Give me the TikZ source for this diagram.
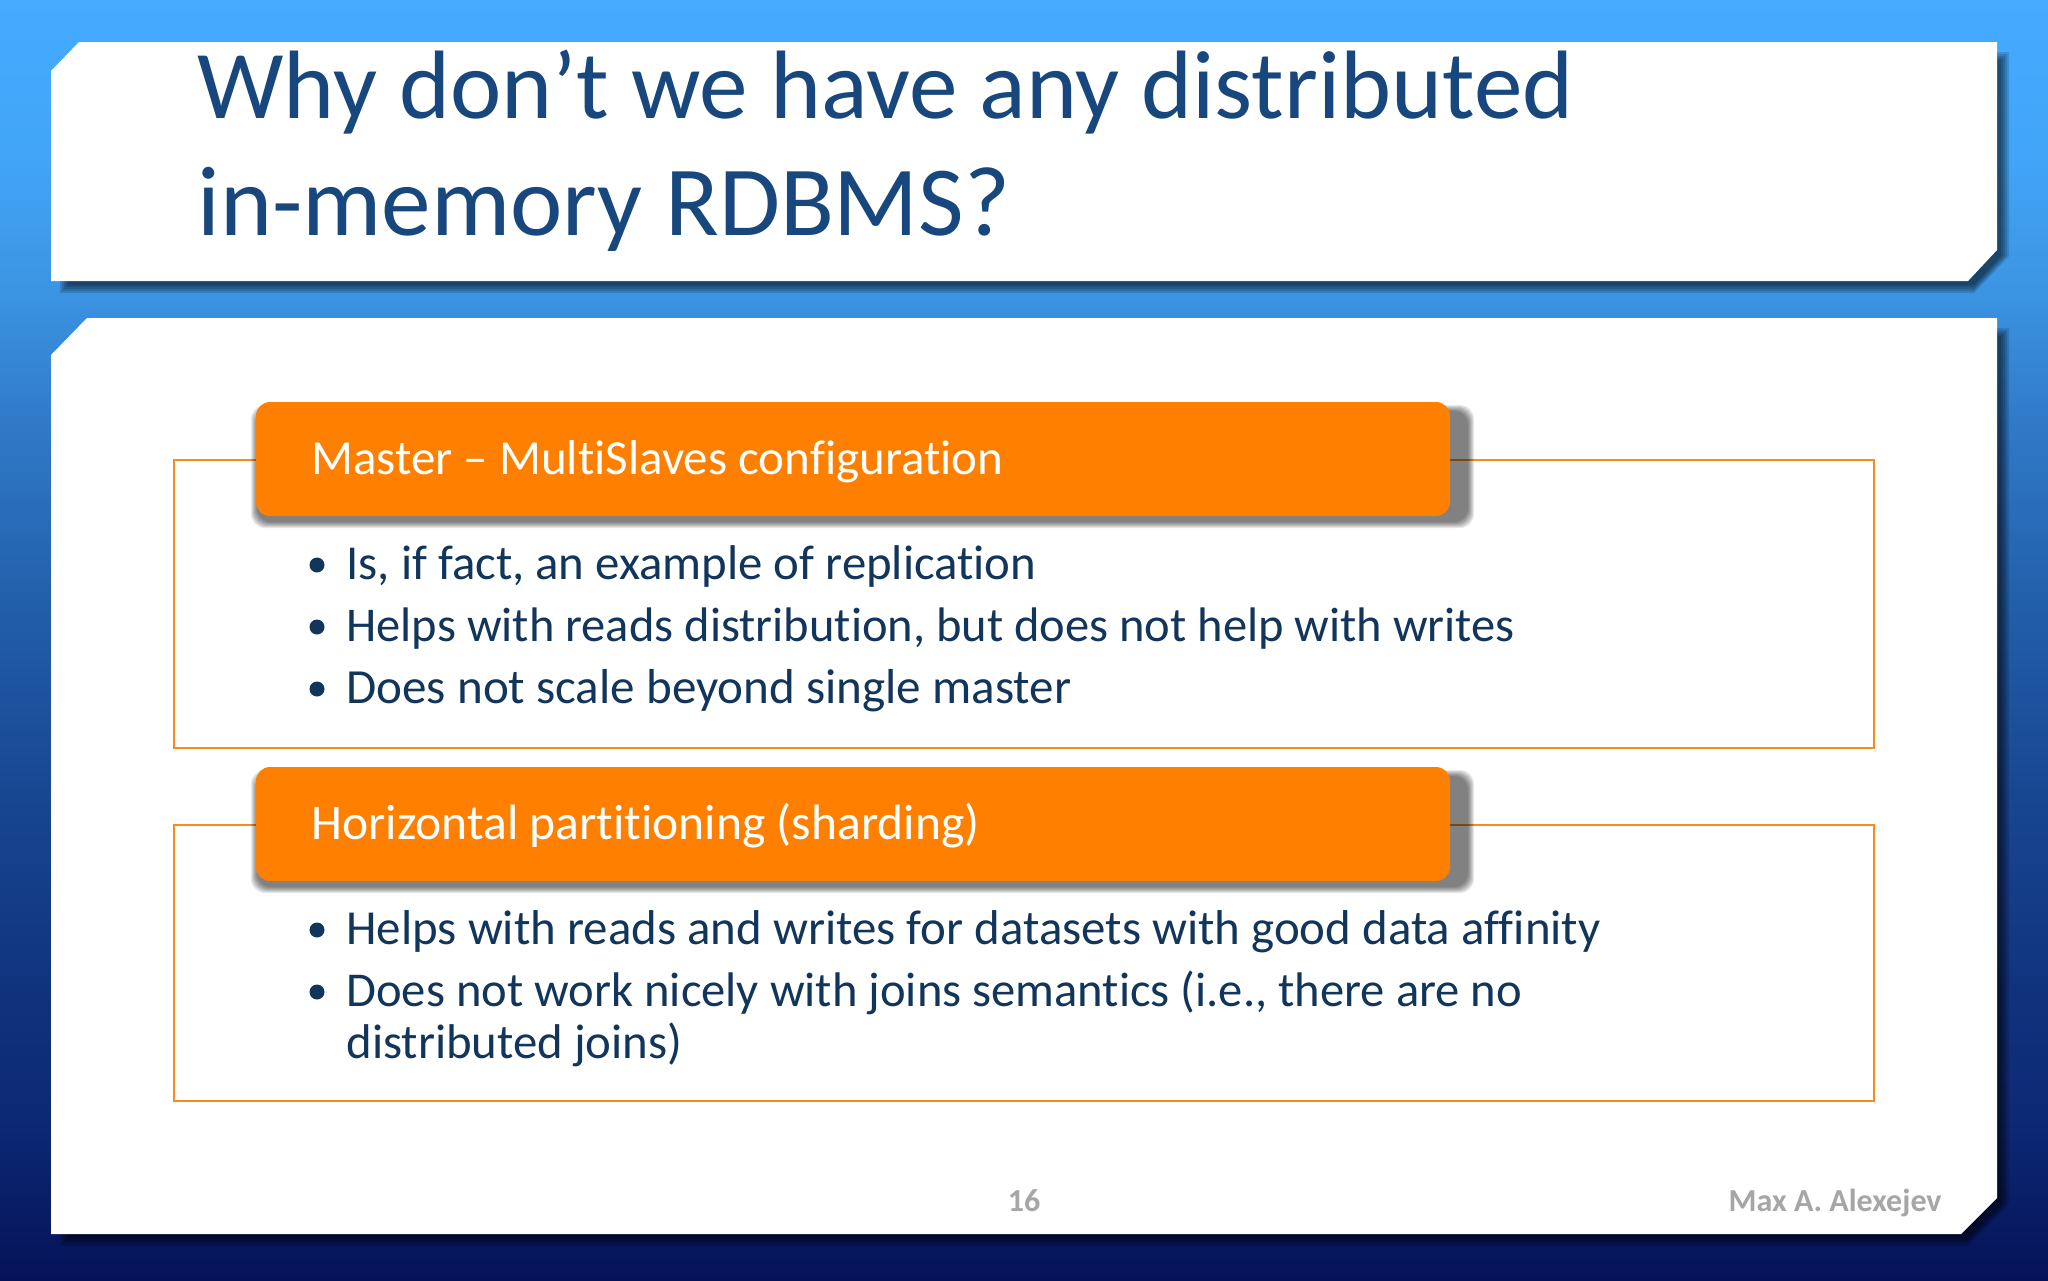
\documentclass[tikz,border=0pt]{standalone}
\usepackage{fontspec}
\setmainfont[Ligatures=NoCommon]{Carlito}
\usetikzlibrary{calc}
\definecolor{titleblue}{HTML}{17477C}
\definecolor{bodyblue}{HTML}{12355B}
\definecolor{hdrorange}{HTML}{FF7F00}
\definecolor{framecol}{HTML}{F98A1E}
\definecolor{footgrey}{HTML}{A6A6A9}
\definecolor{bga}{RGB}{5,18,88}
\definecolor{bgb}{RGB}{12,40,115}
\definecolor{bgc}{RGB}{16,50,125}
\definecolor{bgd}{RGB}{24,70,145}
\definecolor{bge}{RGB}{34,95,170}
\definecolor{bgf}{RGB}{48,122,200}
\definecolor{bgg}{RGB}{60,150,228}
\definecolor{bgh}{RGB}{66,165,247}
\definecolor{bgi}{RGB}{69,171,255}
% the picture fills the stretch 25bp..75bp of the shading
\pgfdeclareverticalshading{slidebg}{100bp}{
 color(0bp)=(bga);
 color(25bp)=(bga);
 color(30.9bp)=(bgb);
 color(36bp)=(bgc);
 color(43.8bp)=(bgd);
 color(51.5bp)=(bge);
 color(58.5bp)=(bgf);
 color(64bp)=(bgg);
 color(69bp)=(bgh);
 color(75bp)=(bgi);
 color(100bp)=(bgi)}
\tikzset{
 x=0.5pt,y=-0.5pt,
 panel/.style={fill=white,draw=none},
 hdrbox/.style={fill=hdrorange,draw=none,rounded corners=7pt},
 hdrtext/.style={anchor=base west,inner sep=0,text=white},
 bodytext/.style={anchor=base west,inner sep=0,text=bodyblue},
 bullet/.style={circle,fill=bodyblue,inner sep=0,minimum size=7.5pt},
 framebox/.style={draw=framecol,line width=1.25pt},
 titletext/.style={anchor=base west,inner sep=0,text=titleblue},
 foot/.style={inner sep=0,text=footgrey,font=\bfseries\fontsize{16}{20}\selectfont}
}
\newcommand{\fs}[1]{\fontsize{#1}{28}\selectfont}
\newcommand{\softshadow}[5]{% x1 y1 x2 y2 rounding
 \foreach \g in {3,2,1,0,-1,-2,-3}{
  \fill[black,opacity=0.09,rounded corners=#5]
   (#1-\g,#2-\g) rectangle (#3+\g,#4+\g);}
}
\begin{document}
\begin{tikzpicture}
\useasboundingbox (0,0) rectangle (2048,1280);
\shade[shading=slidebg] (0,0) rectangle (2048,1280);
% panel shadows: right and bottom only
\foreach \g in {6,4,2,0,-2}{
 \fill[black,opacity=0.14] (100,58-\g) -- (2003+\g,58-\g) -- (2003+\g,256) -- (1974,287+\g) -- (66-\g,287+\g) -- (66-\g,120) -- cycle;
 \fill[black,opacity=0.14] (110,334-\g) -- (2003+\g,334-\g) -- (2003+\g,1204) -- (1967,1240+\g) -- (66-\g,1240+\g) -- (66-\g,400) -- cycle;
}
% panels
\path[panel] (79,42) -- (1997,42) -- (1997,250) -- (1968,281) -- (51,281) -- (51,71) -- cycle;
\path[panel] (87,318) -- (1997,318) -- (1997,1198) -- (1961,1234) -- (51,1234) -- (51,355) -- cycle;
% title
\node[titletext] (title1) at (197,118) {\fs{48.6}Why don’t we have any distributed};
\node[titletext] (title2) at (197,235) {\fs{49.6}in-memory RDBMS?};
% frames
\draw[framebox] (174,460) rectangle (1874,748);
\draw[framebox] (174,825) rectangle (1874,1101);
% header shadows + headers
\softshadow{254}{408}{1471}{525}{7pt}
\softshadow{254}{773}{1471}{890}{7pt}
\path[hdrbox] (256,402) rectangle (1450,516);
\path[hdrbox] (256,767) rectangle (1450,881);
\node[hdrtext] (h1) at (311,474) {\fs{24.5}Master – MultiSlaves configuration};
\node[hdrtext] (h2) at (311,839) {\fs{24.8}Horizontal partitioning (sharding)};
% list 1
\node[bullet] (b1) at (317,565) {};
\node[bullet] (b2) at (317,627) {};
\node[bullet] (b3) at (317,689) {};
\node[bodytext] (t1) at (346,579) {\fs{24.4}Is, if fact, an example of replication};
\node[bodytext] (t2) at (346,641) {\fs{24.25}Helps with reads distribution, but does not help with writes};
\node[bodytext] (t3) at (346,703) {\fs{24.55}Does not scale beyond single master};
% list 2
\node[bullet] (b4) at (317,930) {};
\node[bullet] (b5) at (317,992) {};
\node[bodytext] (t4) at (346,944) {\fs{24.45}Helps with reads and writes for datasets with good data affinity};
\node[bodytext] (t5) at (346,1006) {\fs{24.3}Does not work nicely with joins semantics (i.e., there are no};
\node[bodytext] (t6) at (346,1058) {\fs{24.4}distributed joins)};
% footer
\node[foot,anchor=base] (pg) at (1024,1211) {16};
\node[foot,anchor=base east] (auth) at (1942,1211) {Max A. Alexejev};
\end{tikzpicture}
\end{document}
